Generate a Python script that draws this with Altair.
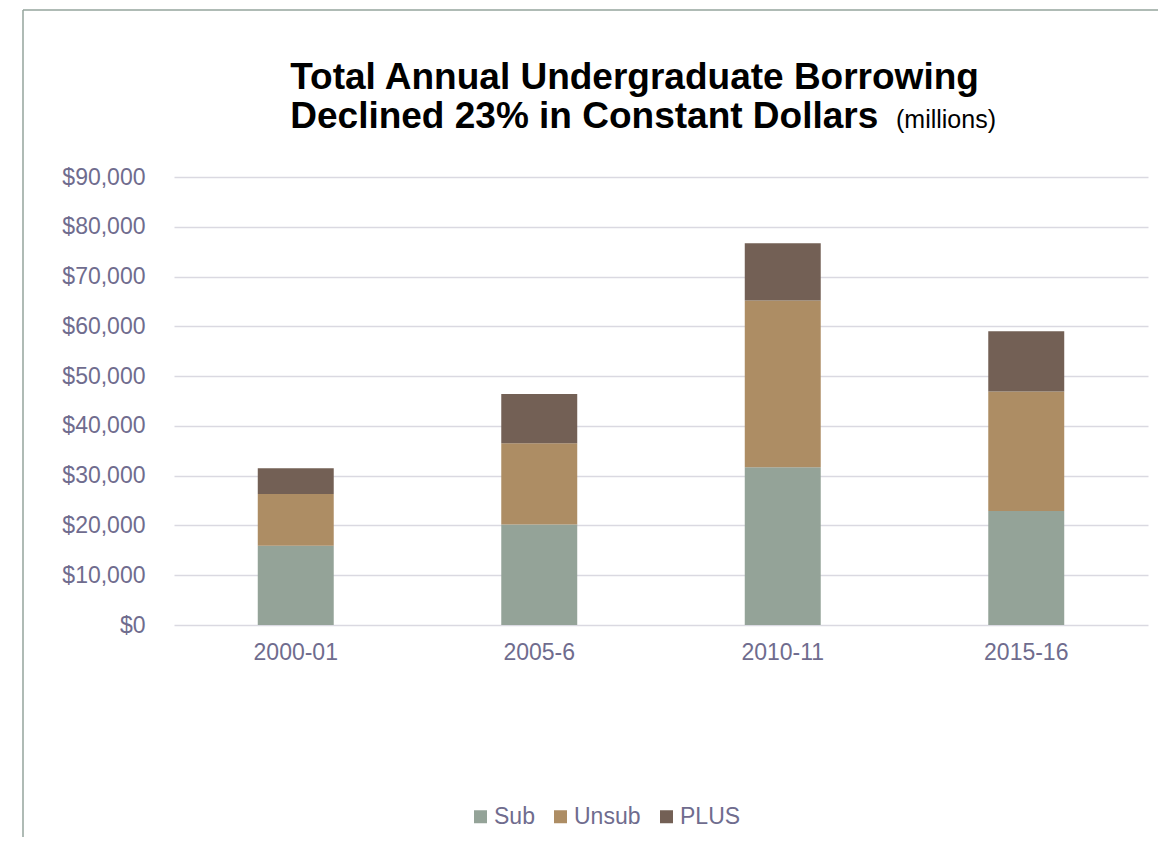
import altair as alt
import pandas as pd

years = ["2000-01", "2005-6", "2010-11", "2015-16"]
series = ["Sub", "Unsub", "PLUS"]
sub_vals = [15900, 20200, 31700, 22900]
unsub_vals = [10400, 16300, 33500, 24000]
plus_vals = [5200, 9900, 11500, 12100]
colors = ["#94A398", "#AD8D64", "#736055"]
y_ticks = [0, 10000, 20000, 30000, 40000, 50000, 60000, 70000, 80000, 90000]

rows = []
for name, vals in zip(series, [sub_vals, unsub_vals, plus_vals]):
    for yr, v in zip(years, vals):
        rows.append({"year": yr, "type": name, "value": v, "order": series.index(name)})
df = pd.DataFrame(rows)

FONT = "Liberation Sans"
LABEL = "#6F6C8E"
FRAME = "#95A59C"

bars = alt.Chart(df).mark_bar().encode(
    x=alt.X("year:N", sort=years, title=None,
            scale=alt.Scale(paddingInner=0.688, paddingOuter=0.344),
            axis=alt.Axis(labelAngle=0, ticks=False, domain=False, grid=False,
                          labelPadding=16, labelFontSize=23, labelColor=LABEL,
                          labelFont=FONT)),
    y=alt.Y("value:Q", stack="zero", title=None,
            scale=alt.Scale(domain=[0, 90000], nice=False),
            axis=alt.Axis(values=y_ticks, format="$,.0f", ticks=False, domain=False,
                          labelPadding=29, labelFontSize=23, labelColor=LABEL,
                          labelFont=FONT, gridColor="#DAD9E1", gridWidth=1.5)),
    color=alt.Color("type:N", sort=series,
                    scale=alt.Scale(domain=series, range=colors),
                    legend=alt.Legend(title=None, orient="none", direction="horizontal",
                                      legendX=295, legendY=628, symbolType="square",
                                      symbolSize=169, symbolStrokeWidth=0,
                                      labelFontSize=23, labelColor=LABEL, labelFont=FONT,
                                      labelOffset=2, columnPadding=14, padding=0)),
    order=alt.Order("order:Q"),
)

one = alt.Data(values=[{"k": 1}])

millions = alt.Chart(one).mark_text(
    align="left", baseline="alphabetic", fontSize=25, font=FONT, color="black"
).encode(x=alt.value(722), y=alt.value(-49), text=alt.value("(millions)"))

frame_left = alt.Chart(one).mark_rule(color=FRAME, strokeWidth=1.5).encode(
    x=alt.value(-151), y=alt.value(-167), y2=alt.value(660))
frame_top = alt.Chart(one).mark_rule(color=FRAME, strokeWidth=1.5).encode(
    x=alt.value(-151), x2=alt.value(990), y=alt.value(-167))

chart = alt.layer(frame_left, frame_top, bars, millions).properties(
    width=974,
    height=448,
    autosize=alt.AutoSizeParams(type="none"),
    padding={"left": 166, "top": 169, "right": 10, "bottom": 212},
    title=alt.TitleParams(
        text=["Total Annual Undergraduate Borrowing", "Declined 23% in Constant Dollars"],
        anchor="start", dx=268, dy=156, fontSize=37, fontWeight="bold", font=FONT,
        color="black", lineHeight=39, offset=29,
    ),
).configure_view(stroke=None)

chart.save("out.html", embed_options={"renderer": "svg", "actions": False})
